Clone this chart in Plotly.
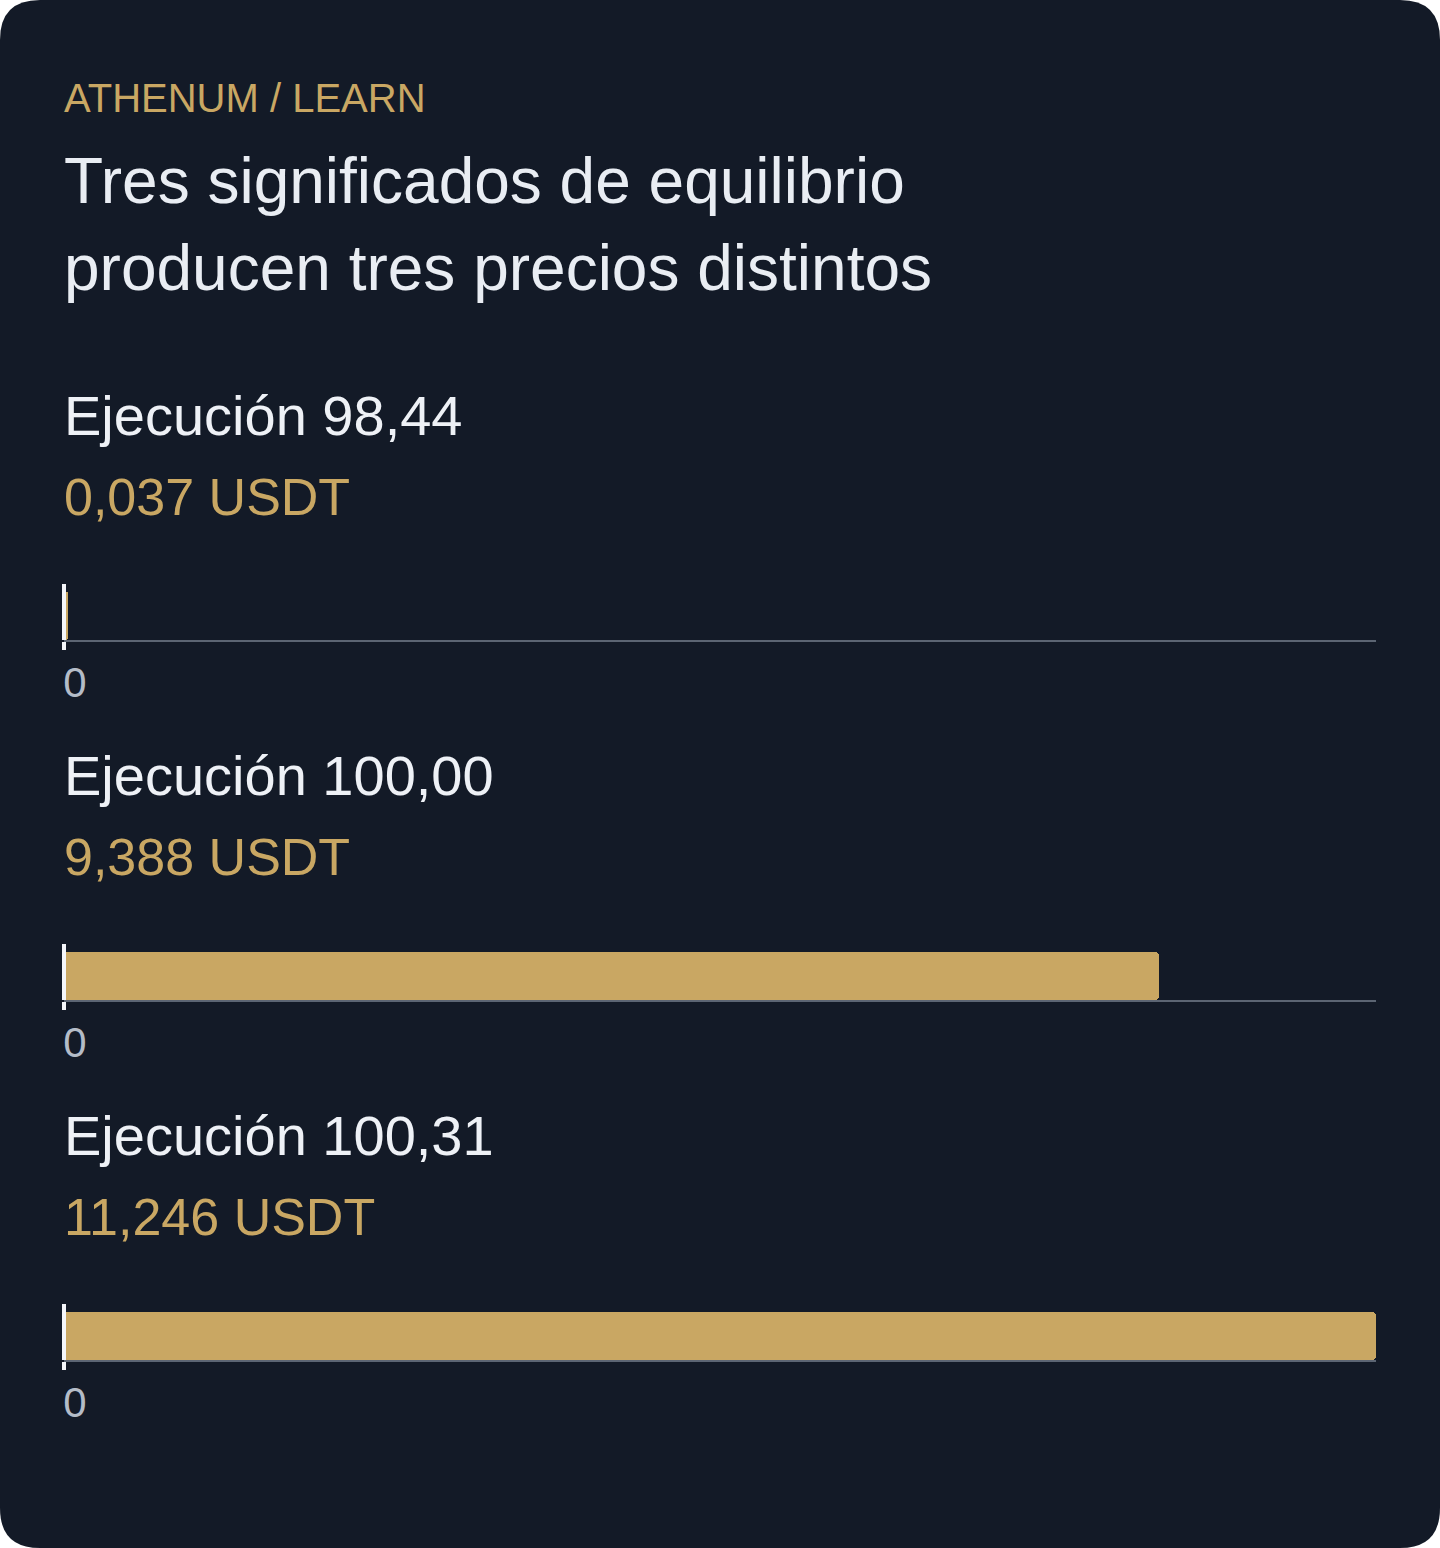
import plotly.graph_objects as go

# datos
labels = ["Ejecución 98,44", "Ejecución 100,00", "Ejecución 100,31"]
values = [0.037, 9.388, 11.246]
value_text = ["0,037 USDT", "9,388 USDT", "11,246 USDT"]
kicker = "ATHENUM / LEARN"
title_lines = ["Tres significados de equilibrio", "producen tres precios distintos"]

W, H = 1440, 1548
BG = "#131a27"
GOLD = "#c9a763"
FONT = "Liberation Sans, Arial, Helvetica, sans-serif"


def py(px):
    # pixel desde arriba -> coordenada paper
    return 1 - px / H


fig = go.Figure()

annotations = [
    dict(text=kicker, x=64 / W, y=py(97.5), font=dict(size=40, color=GOLD)),
    dict(text=title_lines[0], x=64 / W, y=py(180.5), font=dict(size=64, color="#e9edf3")),
    dict(text=title_lines[1], x=64 / W, y=py(268), font=dict(size=64, color="#e9edf3")),
]

for i, (lab, val, vt) in enumerate(zip(labels, values, value_text)):
    n = "" if i == 0 else str(i + 1)
    off = 360 * i
    fig.add_trace(go.Bar(
        x=[val], y=[0], orientation="h", width=1, base=0,
        marker=dict(color=GOLD, line=dict(width=0), cornerradius=4),
        xaxis="x" + n, yaxis="y" + n, hoverinfo="skip", showlegend=False,
    ))
    top, bottom = 944 + off - 360, 1000 + off - 360
    fig.layout["xaxis" + n] = dict(
        domain=[64 / W, 1376 / W], anchor="y" + n, range=[0, max(values)],
        showgrid=False, zeroline=True, zerolinecolor="#f4f6fa", zerolinewidth=4,
        zerolinelayer="above traces",
        showline=True, linecolor="#5c6573", linewidth=2,
        tickvals=[0], ticktext=["0"], ticks="outside", ticklen=8, tickwidth=4,
        tickcolor="#f4f6fa", ticklabelshift=11, ticklabelstandoff=-3,
        tickfont=dict(size=42, color="#b4bcc8"), fixedrange=True,
    )
    fig.layout["yaxis" + n] = dict(
        domain=[py(bottom), py(top)], anchor="x" + n, range=[-0.5, 0.5 + 8 / 48],
        visible=False, fixedrange=True,
    )
    annotations.append(dict(text=lab, x=64 / W, y=py(415 + off),
                            font=dict(size=56, color="#eef1f6")))
    annotations.append(dict(text=vt, x=64 / W, y=py(496.5 + off),
                            font=dict(size=52, color=GOLD)))

for a in annotations:
    a.update(xref="paper", yref="paper", xanchor="left", yanchor="middle",
             showarrow=False, xshift=-2)

# fondo con esquinas redondeadas
r = 40
rx, ry = r / W, r / H
path = (f"M {rx},1 L {1 - rx},1 Q 1,1 1,{1 - ry} L 1,{ry} Q 1,0 {1 - rx},0 "
        f"L {rx},0 Q 0,0 0,{ry} L 0,{1 - ry} Q 0,1 {rx},1 Z")

fig.update_layout(
    width=W, height=H,
    margin=dict(l=0, r=0, t=0, b=0),
    paper_bgcolor="#ffffff", plot_bgcolor="rgba(0,0,0,0)",
    font=dict(family=FONT),
    annotations=annotations,
    shapes=[dict(type="path", path=path, xref="paper", yref="paper",
                 fillcolor=BG, line=dict(width=0), layer="below")],
    bargap=0, showlegend=False,
)

fig.write_html("out.html", config={"displayModeBar": False},
               post_script="document.body.style.margin = '0';")
